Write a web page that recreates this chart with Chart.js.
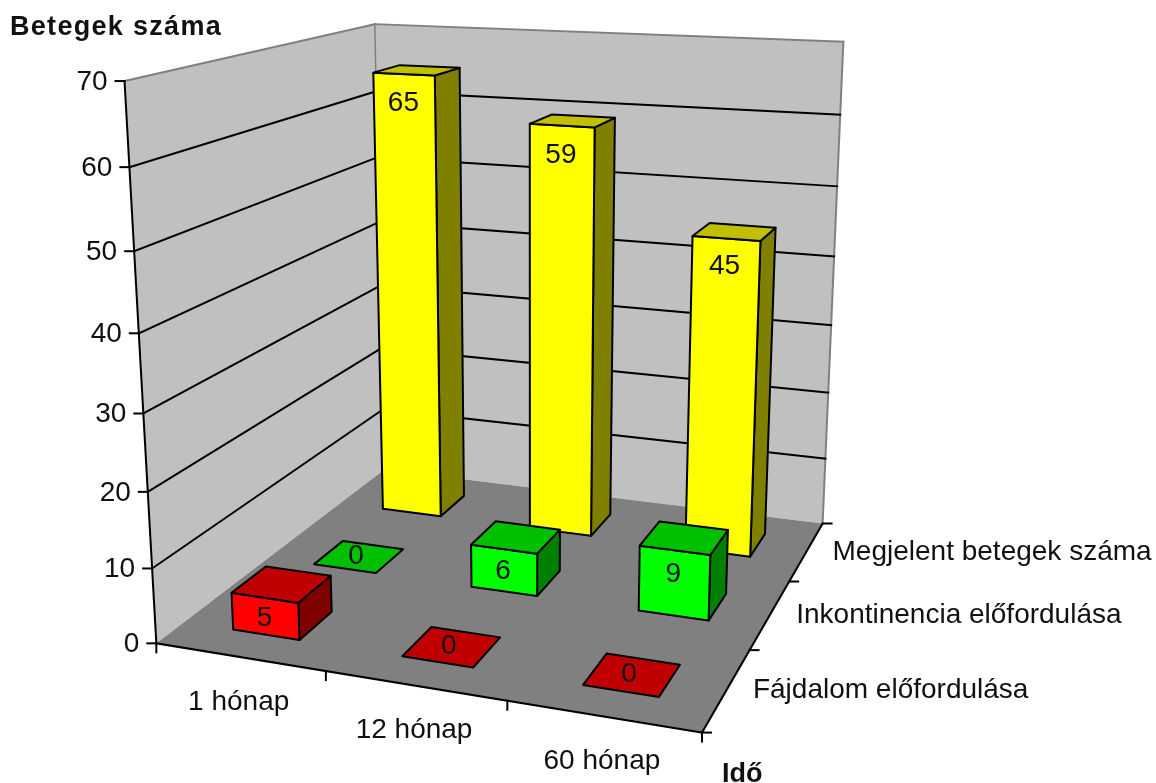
<!DOCTYPE html>
<html>
<head>
<meta charset="utf-8">
<style>
  html, body { margin: 0; padding: 0; background: #fff; overflow: hidden; }
  canvas { display: block; }
</style>
<script src="https://cdn.jsdelivr.net/npm/chart.js@4/dist/chart.umd.js"></script>
</head>
<body>
<canvas id="chart" width="1156" height="783"></canvas>
<script>
// Chart values
const timeLabels = ['1 hónap', '12 hónap', '60 hónap'];
const seriesLabels = ['Fájdalom előfordulása', 'Inkontinencia előfordulása', 'Megjelent betegek száma'];
const painCases = [5, 0, 0];
const incontinenceCases = [0, 6, 9];
const attendedPatients = [65, 59, 45];
const valueAxisTitle = 'Betegek száma';
const timeAxisTitle = 'Idő';

// Face colours per series: front, top, side
const painFaces = ['#ff0000', '#c00000', '#800000'];
const incontinenceFaces = ['#00ff00', '#00c000', '#008000'];
const attendedFaces = ['#ffff00', '#c0c000', '#808000'];

const FONT = '"Liberation Sans", Arial, sans-serif';
const TEXT = '28px ' + FONT;
const BOLD = 'bold 27px ' + FONT;
const BAR_SHARE = 0.4;   // share of a category / series band filled by a column

// Scene frame: unit cube corners [x, height, depth] and where they land on the page.
// depth 0 is the front row, depth 1 the back wall.
const frame = [
  [[0, 0, 0], [155, 643]],
  [[1, 0, 0], [702, 733]],
  [[1, 0, 1], [822, 523]],
  [[0, 0, 1], [386, 470]],
  [[0, 1, 0], [126, 81]],
  [[0, 1, 1], [373, 24]],
  [[1, 1, 1], [844, 42]]
];

// Least-squares projective camera for the frame above
function solveCamera(pairs) {
  const rows = [], rhs = [];
  for (const [[X, Y, Z], [u, v]] of pairs) {
    rows.push([X, Y, Z, 1, 0, 0, 0, 0, -u * X, -u * Y, -u * Z]); rhs.push(u);
    rows.push([0, 0, 0, 0, X, Y, Z, 1, -v * X, -v * Y, -v * Z]); rhs.push(v);
  }
  const n = 11;
  const M = Array.from({ length: n }, (_, i) => {
    const row = new Array(n + 1).fill(0);
    rows.forEach((r, k) => {
      for (let j = 0; j < n; j++) row[j] += r[i] * r[j];
      row[n] += r[i] * rhs[k];
    });
    return row;
  });
  for (let c = 0; c < n; c++) {
    let p = c;
    for (let r = c + 1; r < n; r++) if (Math.abs(M[r][c]) > Math.abs(M[p][c])) p = r;
    [M[c], M[p]] = [M[p], M[c]];
    for (let r = 0; r < n; r++) {
      if (r === c) continue;
      const f = M[r][c] / M[c][c];
      for (let j = c; j <= n; j++) M[r][j] -= f * M[c][j];
    }
  }
  return M.map((r, i) => r[n] / r[i]);
}
const cam = solveCamera(frame);
function project(x, h, d) {
  const w = cam[8] * x + cam[9] * h + cam[10] * d + 1;
  return [
    (cam[0] * x + cam[1] * h + cam[2] * d + cam[3]) / w,
    (cam[4] * x + cam[5] * h + cam[6] * d + cam[7]) / w
  ];
}

// Scale readings as unit-cube coordinates
function fracX(scale, value) { return (scale.getPixelForValue(value) - scale.left) / scale.width; }
function fracY(scale, value) { return (scale.bottom - scale.getPixelForValue(value)) / scale.height; }

function polygon(ctx, pts, fill, stroke, width) {
  ctx.beginPath();
  pts.forEach((p, i) => i ? ctx.lineTo(p[0], p[1]) : ctx.moveTo(p[0], p[1]));
  ctx.closePath();
  if (fill) { ctx.fillStyle = fill; ctx.fill(); }
  if (stroke) { ctx.strokeStyle = stroke; ctx.lineWidth = width; ctx.lineJoin = 'round'; ctx.stroke(); }
}
function segment(ctx, a, b, color, width) {
  ctx.beginPath();
  ctx.moveTo(a[0], a[1]);
  ctx.lineTo(b[0], b[1]);
  ctx.strokeStyle = color;
  ctx.lineWidth = width;
  ctx.stroke();
}
function label(ctx, text, x, y, font, align, spacing) {
  ctx.font = font;
  ctx.fillStyle = '#111';
  ctx.textAlign = align;
  ctx.textBaseline = 'middle';
  ctx.letterSpacing = spacing || '0px';
  ctx.fillText(text, x, y);
  ctx.letterSpacing = '0px';
}

// Column controller: every column becomes a shaded box in the projected scene
class Box3DController extends Chart.BarController {
  draw() {
    const ctx = this.chart.ctx;
    const meta = this.getMeta();
    const xScale = meta.iScale;
    const yScale = meta.vScale;
    const zScale = this.chart.scales.z;
    const faces = this.getDataset().faces;
    const halfX = BAR_SHARE / xScale.ticks.length / 2;
    const halfZ = BAR_SHARE / zScale.ticks.length / 2;
    const zc = fracY(zScale, this.index);

    ctx.save();
    meta.data.forEach((_, i) => {
      const value = this.getParsed(i).y;
      const xc = fracX(xScale, i);
      const top = fracY(yScale, value);
      const x0 = xc - halfX, x1 = xc + halfX, z0 = zc - halfZ, z1 = zc + halfZ;
      const topFace = [project(x0, top, z0), project(x1, top, z0), project(x1, top, z1), project(x0, top, z1)];
      if (value > 0) {
        polygon(ctx, [project(x1, 0, z0), project(x1, 0, z1), project(x1, top, z1), project(x1, top, z0)], faces[2], '#000', 2);
        polygon(ctx, [project(x0, 0, z0), project(x1, 0, z0), project(x1, top, z0), project(x0, top, z0)], faces[0], '#000', 2);
      }
      polygon(ctx, topFace, faces[1], '#000', 2);

      // value label: on the front face of a column, centred on a flat one
      let at;
      if (value > 0) {
        const drop = Math.min(3.2 + value * 0.014, value / 2 + 0.2);
        at = project(xc, fracY(yScale, value - drop), z0);
        at[0] -= 1;
      } else {
        at = project(xc, top, zc);
        at[0] -= 3;
      }
      label(ctx, String(value), at[0], at[1], TEXT, 'center');
    });
    ctx.restore();
  }
}
Box3DController.id = 'box3d';
Box3DController.defaults = Chart.BarController.defaults;
Box3DController.overrides = Chart.BarController.overrides;
Chart.register(Box3DController);

// Walls, floor, gridlines, axes and axis text
const sceneFrame = {
  id: 'sceneFrame',
  beforeDatasetsDraw(chart) {
    const { ctx, scales: { x, y, z } } = chart;
    const W = '#c0c0c0', EDGE = '#808080', INK = '#000';
    ctx.save();
    ctx.lineCap = 'square';

    // walls and floor
    polygon(ctx, [project(0, 0, 0), project(0, 1, 0), project(0, 1, 1), project(0, 0, 1)], W);
    polygon(ctx, [project(0, 0, 1), project(0, 1, 1), project(1, 1, 1), project(1, 0, 1)], W);
    polygon(ctx, [project(0, 0, 0), project(1, 0, 0), project(1, 0, 1), project(0, 0, 1)], EDGE);
    segment(ctx, project(0, 1, 0), project(0, 1, 1), EDGE, 2);
    segment(ctx, project(0, 1, 1), project(1, 1, 1), EDGE, 2);
    segment(ctx, project(0, 1, 1), project(0, 0, 1), EDGE, 1.5);
    segment(ctx, project(1, 1, 1), project(1, 0, 1), EDGE, 2);

    // value gridlines and ticks
    y.ticks.forEach(t => {
      const h = fracY(y, t.value);
      const a = project(0, h, 0);
      if (t.value > 0 && t.value < y.max) {
        segment(ctx, a, project(0, h, 1), INK, 2);
        segment(ctx, project(0, h, 1), project(1, h, 1), INK, 2);
      }
      segment(ctx, a, [a[0] - 9, a[1]], INK, 2);
      label(ctx, t.label, a[0] - 17, a[1] + 1, TEXT, 'right');
    });

    // axis lines
    segment(ctx, project(0, 0, 0), project(0, 1, 0), INK, 2);
    segment(ctx, project(0, 0, 0), project(1, 0, 0), INK, 2);
    segment(ctx, project(1, 0, 0), project(1, 0, 1), INK, 2);

    // time axis ticks at the band boundaries, labels under the band centres
    const bands = x.ticks.length;
    for (let i = 0; i <= bands; i++) {
      const a = project(i / bands, 0, 0);
      segment(ctx, a, [a[0], a[1] + 9], INK, 2);
    }
    x.ticks.forEach((t, i) => {
      const a = project(fracX(x, i), 0, 0);
      label(ctx, t.label, a[0] - 1, a[1] + 45, TEXT, 'center');
    });

    // series axis ticks and labels
    const rows = z.ticks.length;
    for (let i = 0; i <= rows; i++) {
      const a = project(1, 0, i / rows);
      segment(ctx, a, [a[0] + 9, a[1]], INK, 2);
    }
    z.ticks.forEach((t, i) => {
      const a = project(1, 0, fracY(z, i));
      label(ctx, t.label, a[0] + 26, a[1] + 1, TEXT, 'left');
    });

    // axis titles
    label(ctx, valueAxisTitle, 10, 28, BOLD, 'left', '1.3px');
    label(ctx, timeAxisTitle, 722, 775, BOLD, 'left');
    ctx.restore();
  }
};

new Chart(document.getElementById('chart'), {
  type: 'box3d',
  data: {
    labels: timeLabels,
    datasets: [
      { label: seriesLabels[0], data: painCases, faces: painFaces, backgroundColor: painFaces[0] },
      { label: seriesLabels[1], data: incontinenceCases, faces: incontinenceFaces, backgroundColor: incontinenceFaces[0] },
      { label: seriesLabels[2], data: attendedPatients, faces: attendedFaces, backgroundColor: attendedFaces[0] }
    ]
  },
  options: {
    responsive: false,
    animation: false,
    events: [],
    plugins: { legend: { display: false }, tooltip: { enabled: false } },
    scales: {
      x: { type: 'category', display: false, offset: true },
      y: { type: 'linear', display: false, min: 0, max: 70, ticks: { stepSize: 10 } },
      z: { type: 'category', axis: 'y', display: false, offset: true, labels: seriesLabels, reverse: true }
    }
  },
  plugins: [sceneFrame]
});
</script>
</body>
</html>
